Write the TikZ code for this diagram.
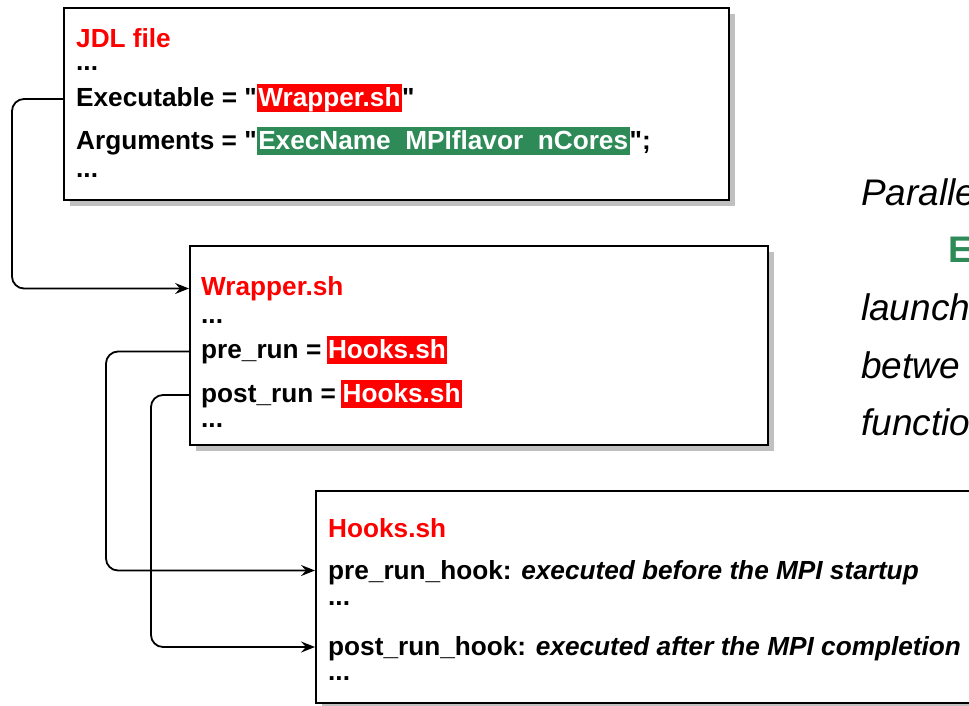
\documentclass[tikz,border=0pt]{standalone}
\usepackage{fontspec}
\setmainfont{Liberation Sans}[Ligatures=TeXOff]
\usetikzlibrary{arrows.meta,shadows}

\definecolor{hlred}{RGB}{255,0,0}
\definecolor{hlgreen}{RGB}{46,139,87}
\definecolor{shade}{RGB}{192,192,192}

% white text on a coloured band
\newcommand{\hlbox}[2]{{\setlength{\fboxsep}{0pt}\colorbox{#1}{\rule[-5.5pt]{0pt}{28pt}\kern1.5pt\textcolor{white}{#2}\kern1.5pt}}}

\begin{document}
\begin{tikzpicture}[x=1pt,y=-1pt,
  panel/.style={draw=black, line width=1.6pt, fill=white, anchor=north west, inner sep=0pt,
    drop shadow={shadow xshift=6pt, shadow yshift=-6pt, opacity=1, fill=shade}},
  codeline/.style={anchor=base west, inner sep=0pt, font=\fontsize{26.2}{30}\selectfont\bfseries},
  titleline/.style={codeline, text=hlred},
  note/.style={anchor=base west, inner sep=0pt, font=\fontsize{37}{44}\selectfont\itshape},
  link/.style={draw=black, line width=1.8pt, rounded corners=12pt},
  linkarrow/.style={link, -{Stealth[length=14pt,width=11pt,inset=5pt]}}
]
\useasboundingbox (0,0) rectangle (969,705);
\clip (0,0) rectangle (969,705);

% ---- panels ----
\node[panel, minimum width=665pt, minimum height=192pt] (jdl) at (63,7) {};
\node[panel, minimum width=578pt, minimum height=199pt] (wrapper) at (189,245) {};
\node[panel, minimum width=700pt, minimum height=212pt] (hooks) at (315,490) {};

% ---- JDL file ----
\node[titleline] (jdltitle) at (76,47) {JDL file};
\node[codeline] (jdldots1) at (76,70) {...};
\node[codeline] (jdlexec) at (76,106) {Executable = "\hlbox{hlred}{Wrapper.sh}"};
\node[codeline] (jdlargs) at (76,149) {Arguments = "\hlbox{hlgreen}{ExecName\ \ MPIflavor\ \ nCores}";};
\node[codeline] (jdldots2) at (76,177) {...};

% ---- Wrapper.sh ----
\node[titleline] (wraptitle) at (201,295) {Wrapper.sh};
\node[codeline] (wrapdots1) at (201,323) {...};
\node[codeline] (wrappre) at (201,358) {pre\_run =\hspace{0.2em}\hlbox{hlred}{Hooks.sh}};
\node[codeline] (wrappost) at (201,402) {post\_run =\hspace{0.2em}\hlbox{hlred}{Hooks.sh}};
\node[codeline] (wrapdots2) at (201,427) {...};

% ---- Hooks.sh ----
\node[titleline] (hookstitle) at (328,537) {Hooks.sh};
\node[codeline] (hookpre) at (328,579) {pre\_run\_hook: \textit{executed before the MPI startup}};
\node[codeline] (hookdots1) at (328,605) {...};
\node[codeline] (hookpost) at (328,655) {post\_run\_hook: \textit{executed after the MPI completion}};
\node[codeline] (hookdots2) at (328,680) {...};

% ---- side note ----
\node[note] (n1) at (861,205) {Paralle};
\node[note, font=\fontsize{37}{44}\selectfont\bfseries, text=hlgreen] (n2) at (948,262) {E};
\node[note] (n3) at (861,320) {launch};
\node[note] (n4) at (861,378) {betwe};
\node[note] (n5) at (861,435) {functio};

% ---- connector heights (middle of each text line) ----
\coordinate (ex) at ([yshift=7pt]jdlexec.base);
\coordinate (wt) at ([yshift=6.5pt]wraptitle.base);
\coordinate (wpre) at ([yshift=6.5pt]wrappre.base);
\coordinate (wpost) at ([yshift=7pt]wrappost.base);
\coordinate (hpre) at ([yshift=8.5pt]hookpre.base);
\coordinate (hpost) at ([yshift=8pt]hookpost.base);

% ---- connectors ----
\draw[linkarrow] (jdl.west |- ex) -- ++(-51pt,0) |- (wrapper.west |- wt);
\draw[linkarrow] (wrapper.west |- wpre) -- ++(-83pt,0) |- (hooks.west |- hpre);
\draw[linkarrow] (wrapper.west |- wpost) -- ++(-38pt,0) |- (hooks.west |- hpost);
\end{tikzpicture}
\end{document}
